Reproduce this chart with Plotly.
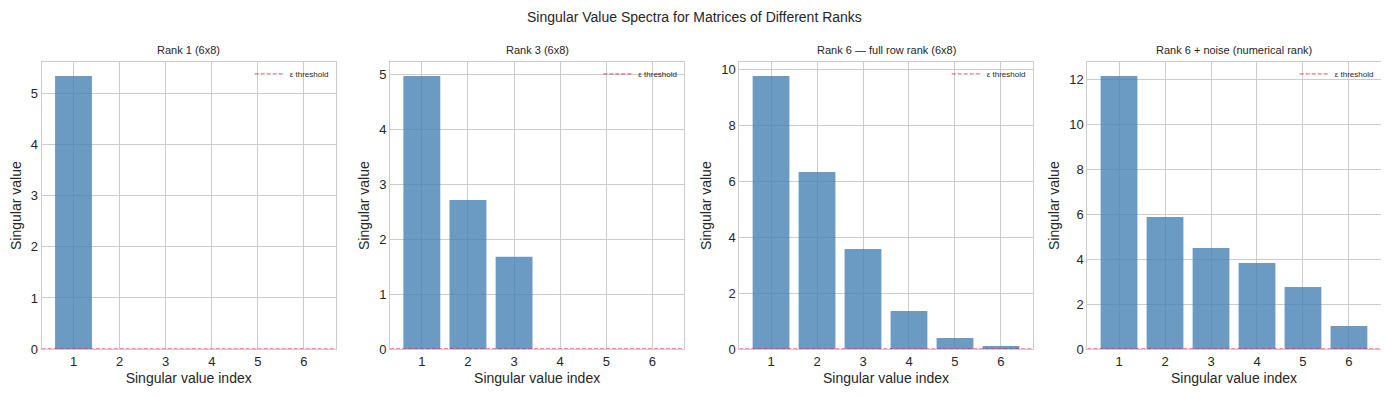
import plotly.graph_objects as go

# ---- data ----
indices = [1, 2, 3, 4, 5, 6]
tick_labels = ["1", "2", "3", "4", "5", "6"]
panel_titles = [
    "Rank 1 (6x8)",
    "Rank 3 (6x8)",
    "Rank 6 \u2014 full row rank (6x8)",
    "Rank 6 + noise (numerical rank)",
]
sv_rank1 = [5.35, 0.0, 0.0, 0.0, 0.0, 0.0]
sv_rank3 = [4.97, 2.71, 1.68, 0.0, 0.0, 0.0]
sv_rank6 = [9.78, 6.34, 3.58, 1.36, 0.39, 0.11]
sv_noise = [12.15, 5.87, 4.49, 3.83, 2.76, 1.02]
eps_threshold = [1e-14, 1e-14, 1e-14, 1e-14]
y_dticks = [1, 1, 2, 2]

series = [sv_rank1, sv_rank3, sv_rank6, sv_noise]

# page has an 8px body margin; size the figure so it fills the window
OFF = 8
W, H = 1389 - OFF, 397 - OFF
x_px = [(41.7, 335.7), (390.0, 684.3), (739.3, 1032.7), (1087.3, 1380.7)]
x_px = [(a - OFF, b - OFF) for a, b in x_px]
top_px, bot_px = 62.3 - OFF, 349.0 - OFF
ydom = [(H - bot_px) / H, (H - top_px) / H]

BAR_COLOR = "rgba(70,130,180,0.8)"
GRID = "#cccccc"
TXT = "#262626"
FONT = "Liberation Sans, Arial, sans-serif"

fig = go.Figure()
layout = dict(
    width=W, height=H,
    margin=dict(l=0, r=0, t=0, b=0, autoexpand=False),
    paper_bgcolor="white", plot_bgcolor="white",
    font=dict(family=FONT, color=TXT),
    showlegend=True,
    annotations=[],
)

for i, vals in enumerate(series):
    n = "" if i == 0 else str(i + 1)
    xa, ya = "x" + n, "y" + n
    lg = "legend" + n
    fig.add_trace(go.Bar(
        x=indices, y=vals, width=0.8,
        marker=dict(color=BAR_COLOR, line=dict(width=0)),
        xaxis=xa, yaxis=ya, showlegend=False,
    ))
    fig.add_trace(go.Scatter(
        x=[0.31, 6.69], y=[eps_threshold[i], eps_threshold[i]],
        mode="lines", name="\u03b5 threshold",
        line=dict(color="#DC143C", width=1.3, dash="4px,2px"),
        opacity=0.6,
        xaxis=xa, yaxis=ya, legend=lg, showlegend=True,
    ))
    x0, x1 = x_px[i]
    dom = [x0 / W, x1 / W]
    ymax = 1.05 * max(vals)
    layout["xaxis" + n] = dict(
        domain=dom, anchor=ya, range=[0.31, 6.69],
        tickmode="array", tickvals=indices, ticktext=tick_labels,
        showgrid=True, gridcolor=GRID, gridwidth=1,
        showline=True, linecolor=GRID, linewidth=1, mirror=True,
        zeroline=False, ticks="", layer="below traces", automargin=False,
        tickfont=dict(size=13, color=TXT),
        title=dict(text="Singular value index", font=dict(size=14, color=TXT), standoff=5),
    )
    layout["yaxis" + n] = dict(
        domain=ydom, anchor=xa, range=[0, ymax],
        dtick=y_dticks[i], tick0=0,
        showgrid=True, gridcolor=GRID, gridwidth=1,
        showline=True, linecolor=GRID, linewidth=1, mirror=True,
        zeroline=False, ticks="", layer="below traces", automargin=False,
        tickfont=dict(size=13, color=TXT),
        title=dict(text="Singular value", font=dict(size=14, color=TXT), standoff=6),
    )
    layout[lg] = dict(
        x=(x1 - 2) / W, y=(H - top_px + 3) / H,
        xanchor="right", yanchor="top",
        bgcolor="rgba(0,0,0,0)", borderwidth=0,
        font=dict(size=8, color=TXT), itemwidth=30,
        tracegroupgap=0,
    )
    layout["annotations"].append(dict(
        text=panel_titles[i], x=(x0 + x1) / 2 / W, y=(H - (50 - OFF)) / H,
        xref="paper", yref="paper", xanchor="center", yanchor="middle",
        showarrow=False, font=dict(size=11, color=TXT),
    ))

layout["annotations"].append(dict(
    text="Singular Value Spectra for Matrices of Different Ranks",
    x=(694.5 - OFF) / W, y=(H - (17 - OFF)) / H, xref="paper", yref="paper",
    xanchor="center", yanchor="middle", showarrow=False,
    font=dict(size=14, color=TXT),
))

fig.update_layout(**layout)
fig.write_html("out.html")
